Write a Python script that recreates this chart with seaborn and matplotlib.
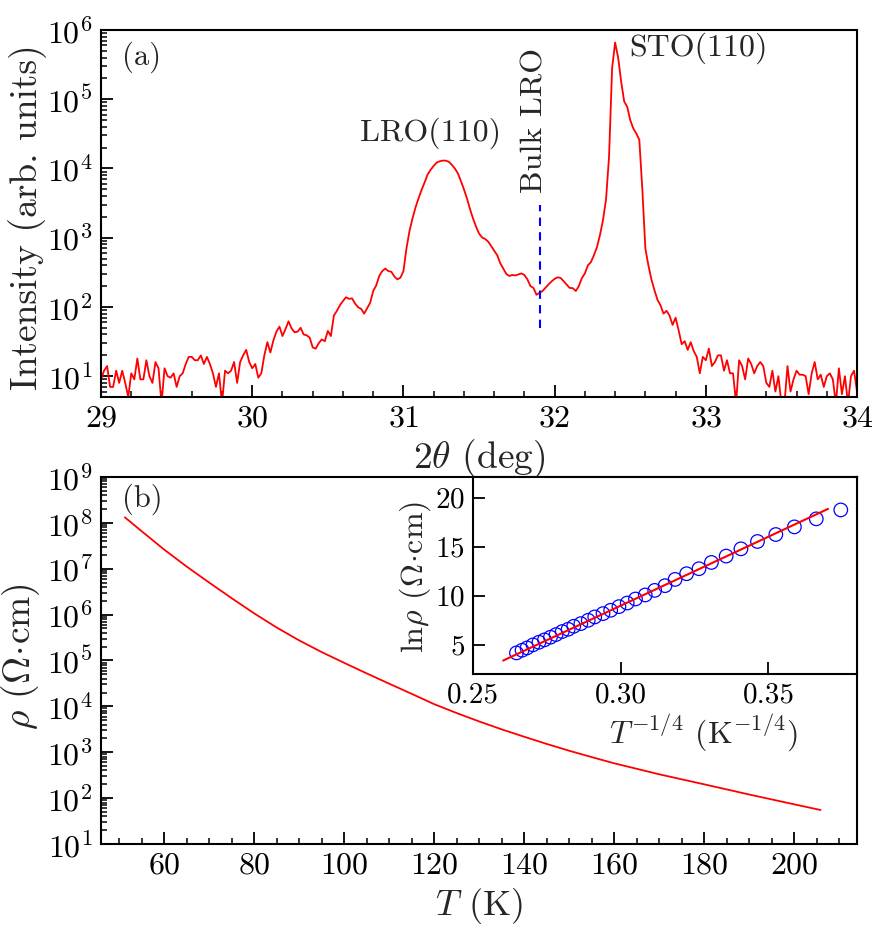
import numpy as np
import pandas as pd
import matplotlib
matplotlib.use('Agg')
import matplotlib.pyplot as plt
import seaborn as sns
from matplotlib.ticker import LogLocator, MultipleLocator, FormatStrFormatter, NullFormatter

# --- (a) XRD scan, 2theta from 29 to 34 deg, step 0.02 deg ---
two_theta = np.linspace(29.0, 34.0, 251)
intensity = [
    # 29.00 - 30.00
    9, 12, 14, 7, 7, 12, 8, 12, 8, 5, 11, 9, 18, 9, 9, 17, 10, 8, 16, 13,
    4, 13, 10, 9.5, 11, 7, 10, 11, 15, 19, 19, 17, 17, 20, 15, 19, 15, 11, 7, 11,
    4, 12, 11, 12, 16, 8, 16, 20, 24, 16, 13,
    # 30.02 - 30.98
    15, 9.5, 11, 20, 31, 22, 33, 44, 52, 38, 48, 62, 49, 43, 44, 50, 40, 39, 36, 26,
    25, 30, 34, 32, 45, 38, 75, 88, 106, 122, 138, 131, 133, 112, 99, 94, 80, 96, 115, 170,
    205, 280, 330, 358, 330, 322, 275, 250, 265,
    # 31.00 - 32.10
    330, 700, 1250, 1900, 2750, 3700, 4900, 6300, 8200, 9600, 10900, 12200, 12700, 13000, 13000,
    12500, 11300, 10000, 8500, 6600, 5000, 3700, 2600, 1900, 1450, 1150, 1010, 960, 880, 760,
    650, 560, 430, 360, 300, 280, 290, 285, 295, 305, 290, 250, 200, 188, 150, 160, 170, 190,
    212, 234, 255, 268, 262, 235, 209, 188,
    # 32.12 - 32.70
    187, 170, 200, 261, 305, 400, 445, 560, 730, 1100, 1800, 3600, 15000, 280000, 660000,
    400000, 180000, 93000, 78000, 50000, 38000, 32000, 26000, 5000, 700, 400, 250, 175, 127, 106,
    # 32.72 - 34.00
    80, 88, 75, 55, 70, 46, 29, 32, 24, 31, 23, 19, 11, 19, 17, 25, 14, 16, 20, 20,
    12, 17, 11, 11, 4, 17, 14, 9, 18, 15, 11, 14, 16, 14, 8, 7, 12, 6, 10, 4,
    4, 14, 6, 9, 12, 10.5, 10.5, 10, 5.5, 11, 16, 9, 10.5, 7, 10, 11, 9, 4, 13, 5.5,
    10, 4, 10, 12, 6,
]
bulk_lro = 31.9

# --- (b) resistivity vs temperature ---
temperature = [51.3, 55, 60, 65, 70, 75, 80, 85, 90, 95, 100, 105, 110, 115, 120, 125, 130,
               135, 140, 145, 150, 155, 160, 170, 180, 190, 200, 205.9]
rho = [1.32e8, 6.61e7, 2.63e7, 1.12e7, 5.01e6, 2.29e6, 1.07e6, 5.25e5, 2.75e5, 1.53e5, 8.91e4,
       5.25e4, 3.13e4, 1.88e4, 1.12e4, 7.16e3, 4.70e3, 3.16e3, 2.18e3, 1.52e3, 1.08e3, 785,
       575, 331, 200, 120, 73.3, 55]

# --- inset: ln(rho) vs T^-1/4 ---
t_quarter = [0.2647, 0.2666, 0.2683, 0.2703, 0.2723, 0.2742, 0.2762, 0.2781, 0.2802, 0.2822,
             0.2841, 0.2865, 0.2890, 0.2912, 0.2940, 0.2966, 0.2994, 0.3022, 0.3050, 0.3083,
             0.3115, 0.3150, 0.3184, 0.3223, 0.3265, 0.3307, 0.3357, 0.3407, 0.3463, 0.3525,
             0.3588, 0.3662, 0.3745]
ln_rho = [4.15, 4.42, 4.66, 4.97, 5.24, 5.48, 5.75, 6.02, 6.33, 6.56,
          6.87, 7.14, 7.48, 7.82, 8.16, 8.50, 8.87, 9.24, 9.65, 10.06,
          10.53, 11.01, 11.65, 12.23, 12.74, 13.38, 14.03, 14.77, 15.52, 16.23,
          17.01, 17.83, 18.74]
fit_x = [0.2602, 0.3702]
fit_y = [3.37, 18.85]

xrd = pd.DataFrame({'two_theta': two_theta, 'intensity': intensity})
rt = pd.DataFrame({'T': temperature, 'rho': rho})
vrh = pd.DataFrame({'x': t_quarter, 'y': ln_rho})

sns.set_style('ticks')
plt.rcParams.update({
    'font.family': 'cmr10',
    'mathtext.fontset': 'cm',
    'axes.formatter.use_mathtext': True,
    'axes.unicode_minus': False,
    'axes.linewidth': 1.5,
    'axes.edgecolor': 'black',
})


def style_axis(ax, size=23, major=8.5, minor=4.3):
    ax.tick_params(which='both', direction='in', top=False, right=False,
                   labelsize=size, colors='black')
    ax.tick_params(which='major', length=major, width=1.3, pad=6)
    ax.tick_params(which='minor', length=minor, width=1.1)
    for s in ax.spines.values():
        s.set_visible(True)
        s.set_linewidth(1.5)


fig = plt.figure(figsize=(8.84, 9.30), dpi=100)

# (a) XRD
ax1 = fig.add_axes([0.1143, 0.5731, 0.8552, 0.3946])
sns.lineplot(data=xrd, x='two_theta', y='intensity', ax=ax1, color='red', lw=1.3, estimator=None)
ax1.set_yscale('log')
ax1.set_xlim(29, 34)
ax1.set_ylim(5, 1e6)
ax1.xaxis.set_major_locator(MultipleLocator(1))
ax1.xaxis.set_minor_locator(MultipleLocator(0.2))
ax1.yaxis.set_major_locator(LogLocator(base=10, numticks=20))
ax1.yaxis.set_minor_locator(LogLocator(base=10, subs=np.arange(2, 10), numticks=20))
ax1.yaxis.set_minor_formatter(NullFormatter())
style_axis(ax1)
ax1.vlines(bulk_lro, 50, 3000, colors='blue', linestyles=(0, (4, 3)), lw=1.5)
ax1.text(bulk_lro - 0.03, 4500, 'Bulk LRO', rotation=90, ha='center', va='bottom', fontsize=23)
ax1.text(31.18, 32000, 'LRO(110)', ha='center', va='center', fontsize=23)
ax1.text(32.95, 550000, 'STO(110)', ha='center', va='center', fontsize=23)
ax1.text(0.054, 0.926, '(a)', transform=ax1.transAxes, ha='center', va='center', fontsize=22)
ax1.set_xlabel(r'$2\theta$ (deg)', fontsize=27)
ax1.set_ylabel('Intensity (arb. units)', fontsize=27)
ax1.xaxis.set_label_coords(0.5, -0.11)
ax1.yaxis.set_label_coords(-0.071, 0.49)

# (b) rho vs T
ax2 = fig.add_axes([0.1143, 0.0925, 0.8552, 0.3946])
sns.lineplot(data=rt, x='T', y='rho', ax=ax2, color='red', lw=1.3, estimator=None)
ax2.set_yscale('log')
ax2.set_xlim(46, 214)
ax2.set_ylim(10, 1e9)
ax2.xaxis.set_major_locator(MultipleLocator(20))
ax2.xaxis.set_minor_locator(MultipleLocator(5))
ax2.yaxis.set_major_locator(LogLocator(base=10, numticks=20))
ax2.yaxis.set_minor_locator(LogLocator(base=10, subs=np.arange(2, 10), numticks=20))
ax2.yaxis.set_minor_formatter(NullFormatter())
style_axis(ax2)
ax2.text(0.055, 0.94, '(b)', transform=ax2.transAxes, ha='center', va='center', fontsize=22)
ax2.set_xlabel(r'$T$ (K)', fontsize=26)
ax2.set_ylabel(r'$\rho$ ($\Omega\!\cdot\!$cm)', fontsize=27)
ax2.xaxis.set_label_coords(0.5, -0.115)
ax2.yaxis.set_label_coords(-0.078, 0.51)

# inset
ax3 = fig.add_axes([0.5351, 0.2753, 0.4344, 0.2118])
sns.scatterplot(data=vrh, x='x', y='y', ax=ax3, marker='o', s=95, facecolors='none',
                edgecolor='blue', linewidth=0.9)
sns.lineplot(x=fit_x, y=fit_y, ax=ax3, color='red', lw=1.5, estimator=None)
ax3.set_xlim(0.25, 0.38)
ax3.set_ylim(2, 22.1)
ax3.xaxis.set_major_locator(MultipleLocator(0.05))
ax3.xaxis.set_major_formatter(FormatStrFormatter('%.2f'))
ax3.yaxis.set_major_locator(MultipleLocator(5))
ax3.minorticks_off()
style_axis(ax3, size=21)
ax3.set_xlabel(r'$T^{-1/4}$ (K$^{-1/4}$)', fontsize=23)
ax3.set_ylabel(r'ln$\rho$ ($\Omega\!\cdot\!$cm)', fontsize=23)
ax3.xaxis.set_label_coords(0.6, -0.198)
ax3.yaxis.set_label_coords(-0.104, 0.49)

fig.savefig('out.png', dpi=100)
